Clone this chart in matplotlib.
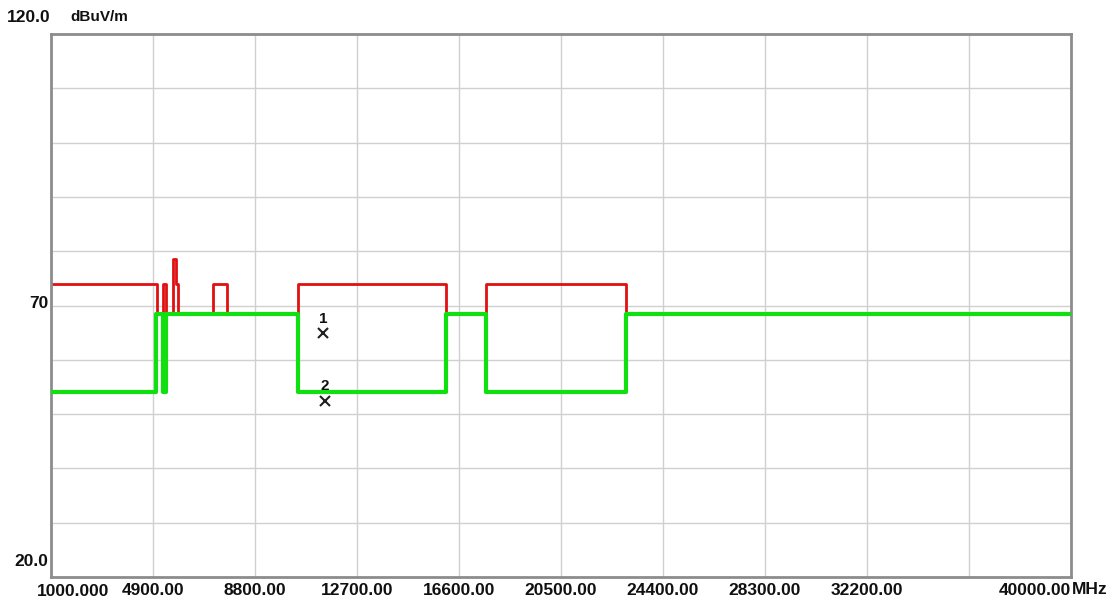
import numpy as np
import matplotlib
matplotlib.use("Agg")
import matplotlib.pyplot as plt

# limit line (red) and reading (green), step traces
red_freq = [1000, 5050, 5270, 5380, 5650, 5780, 5860, 7200, 7735, 10450, 16100, 17650, 23000, 40000]
red_level = [74, 68.5, 74, 68.5, 78.5, 74, 68.5, 74, 68.5, 74, 68.5, 74, 68.5, 68.5]
green_freq = [1000, 5020, 5270, 5380, 10450, 16100, 17650, 23000, 40000]
green_level = [54, 68.5, 54, 68.5, 54, 68.5, 54, 68.5, 68.5]

marker_freq = [11410, 11480]
marker_level = [64.9, 52.5]
marker_names = ["1", "2"]

x_ticks = np.arange(1000, 40001, 3900)
x_labels = ["1000.000", "4900.00", "8800.00", "12700.00", "16600.00", "20500.00",
            "24400.00", "28300.00", "32200.00", "", "40000.00"]

fnt = ['Liberation Sans', 'DejaVu Sans']
txt = dict(family=fnt, fontweight='bold', color='#101010', fontsize=12.5)

fig = plt.figure(figsize=(11.10, 6.02), dpi=100)
ax = fig.add_axes([51/1110, 1-577/602, 1020/1110, 543/602])
ax.set_xlim(1000, 40000)
ax.set_ylim(20, 120)

for v in x_ticks[1:-1]:
    ax.axvline(v, color='#d0d0d0', lw=1, zorder=0)
for v in range(30, 120, 10):
    ax.axhline(v, color='#d0d0d0', lw=1, zorder=0)

ax.plot(red_freq, red_level, drawstyle='steps-post', color='#e01010', lw=2, zorder=2)
ax.plot(green_freq, green_level, drawstyle='steps-post', color='#10e010', lw=3, zorder=3)

for f, l, n in zip(marker_freq, marker_level, marker_names):
    ax.plot(f, l, marker='x', color='#202020', ms=7, mew=1.5, zorder=4)
    ax.text(f, l + 1.3, n, ha='center', va='bottom', **dict(txt, fontsize=11))

ax.set_xticks([])
ax.set_yticks([])
for s in ax.spines.values():
    s.set_color('#8c8c8c')
    s.set_linewidth(2)

# tick labels placed like the analyser software does
tr = ax.get_xaxis_transform()
for v, lab in zip(x_ticks, x_labels):
    if not lab:
        continue
    if v == x_ticks[0]:
        fig.text(37/1110, 1-591/602, lab, ha='left', va='center', **txt)
    elif v == x_ticks[-1]:
        ax.text(v, -0.024, lab, transform=tr, ha='right', va='center', clip_on=False, **txt)
    else:
        ax.text(v, -0.024, lab, transform=tr, ha='center', va='center', clip_on=False, **txt)

fig.text(1072/1110, 1-590/602, "MHz", ha='left', va='center', **txt)
fig.text(50/1110, 1-17/602, "120.0", ha='right', va='center', **txt)
fig.text(70/1110, 1-17/602, "dBuV/m", ha='left', va='center', **dict(txt, fontsize=11))
fig.text(48/1110, 1-303/602, "70", ha='right', va='center', **txt)
fig.text(48/1110, 1-561/602, "20.0", ha='right', va='center', **txt)

fig.savefig('out.png', dpi=100)
